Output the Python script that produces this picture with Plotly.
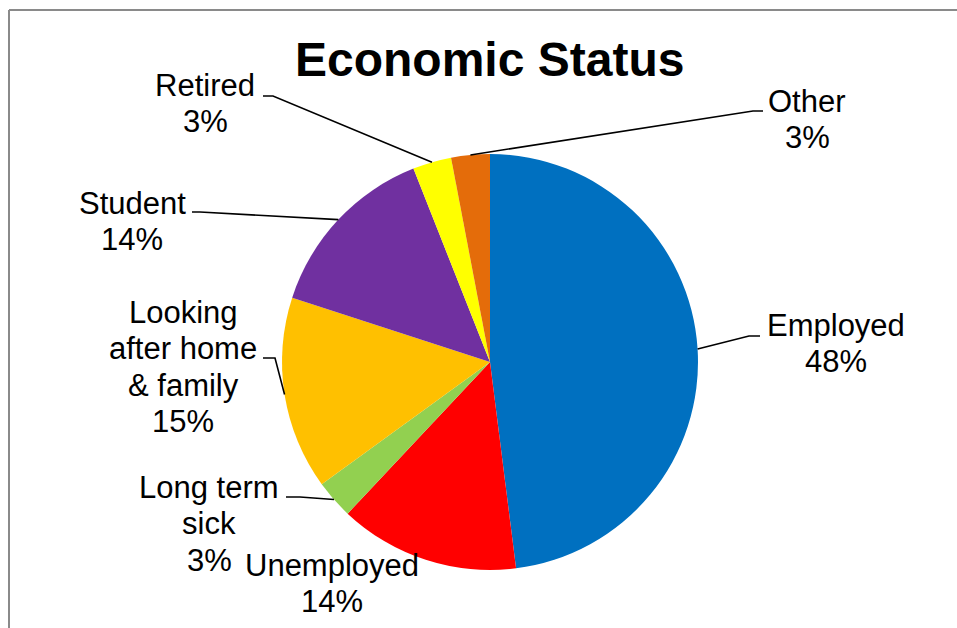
import math
import plotly.graph_objects as go

# Chart data
categories = ["Employed", "Unemployed", "Long term sick", "Looking after home & family",
              "Student", "Retired", "Other"]
shares = [48, 14, 3, 15, 14, 3, 3]
label_lines = [["Employed"], ["Unemployed"], ["Long term", "sick"],
               ["Looking", "after home", "& family"], ["Student"], ["Retired"], ["Other"]]
colors = ["#0070C0", "#FF0000", "#92D050", "#FFC000", "#7030A0", "#FFFF00", "#E46C0A"]
title_text = "Economic Status"

# Canvas / pie geometry (pixels)
W, H = 957, 628
CX, CY, R = 490, 362, 208

# Label placement: centre of first text line, and leader-line elbow/end points
label_pos = [(836, 325), (332, 565), (209, 487), (183, 312), (132, 203), (205, 85), (807, 101)]
leader_pts = [
    [(749, 336), (760, 336)],
    None,
    [(300, 497), (286, 497)],
    [(275, 358), (263, 358)],
    [(200, 212), (192, 212)],
    [(273, 96), (263, 96)],
    [(753, 111), (763, 111)],
]
LINE_STEP = 36.5
FONT = "Arial, Liberation Sans, sans-serif"


def px(x):
    return x / W


def py(y):
    return 1 - y / H


fig = go.Figure(go.Pie(
    labels=categories,
    values=shares,
    marker=dict(colors=colors, line=dict(width=0)),
    sort=False,
    direction="clockwise",
    rotation=0,
    textinfo="none",
    hoverinfo="label+percent",
    showlegend=False,
    domain=dict(x=[px(CX - R), px(CX + R)], y=[py(CY + R), py(CY - R)]),
))

annotations = []
shapes = []
total = sum(shares)
cum = 0
for i, v in enumerate(shares):
    mid = (cum + v / 2) / total * 2 * math.pi
    cum += v
    ax = CX + R * math.sin(mid)
    ay = CY - R * math.cos(mid)

    lines = label_lines[i] + [f"{v}%"]
    lx, ly = label_pos[i]
    for k, t in enumerate(lines):
        annotations.append(dict(
            x=px(lx), y=py(ly + k * LINE_STEP), xref="paper", yref="paper",
            text=t, showarrow=False, xanchor="center", yanchor="middle",
            font=dict(family=FONT, size=31, color="#000000"),
        ))

    pts = leader_pts[i]
    if pts:
        path = f"M {px(ax)} {py(ay)}"
        for (x, y) in pts:
            path += f" L {px(x)} {py(y)}"
        shapes.append(dict(type="path", path=path, xref="paper", yref="paper",
                           line=dict(color="#000000", width=1.6)))

# Chart area border (top and left edges visible)
shapes.append(dict(type="line", xref="paper", yref="paper",
                   x0=px(9), y0=py(10), x1=px(W), y1=py(10),
                   line=dict(color="#8A8A8A", width=2)))
shapes.append(dict(type="line", xref="paper", yref="paper",
                   x0=px(9), y0=py(10), x1=px(9), y1=py(H),
                   line=dict(color="#8A8A8A", width=2)))

annotations.append(dict(
    x=px(490), y=py(59), xref="paper", yref="paper", text=f"<b>{title_text}</b>",
    showarrow=False, xanchor="center", yanchor="middle",
    font=dict(family=FONT, size=48, color="#000000"),
))

fig.update_layout(
    width=W, height=H,
    margin=dict(l=0, r=0, t=0, b=0),
    paper_bgcolor="#FFFFFF",
    plot_bgcolor="#FFFFFF",
    annotations=annotations,
    shapes=shapes,
)

fig.write_html("out.html")
